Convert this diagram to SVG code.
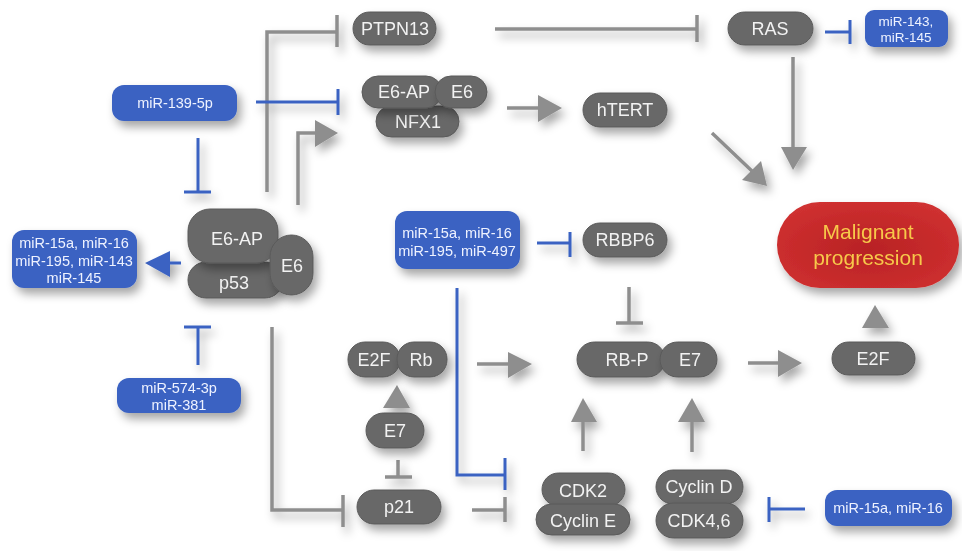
<svg xmlns="http://www.w3.org/2000/svg" width="962" height="551" viewBox="0 0 962 551">
<defs>
<filter id="sh" x="-30%" y="-30%" width="170%" height="180%">
<feDropShadow dx="4" dy="6" stdDeviation="5" flood-color="#000" flood-opacity="0.35"/>
</filter>
<radialGradient id="red" cx="0.5" cy="0.55" r="0.6">
<stop offset="0" stop-color="#b82224"/>
<stop offset="1" stop-color="#cf3030"/>
</radialGradient>
</defs>
<style>
.g rect{fill:#686868;stroke:#5a5a5a;stroke-width:1}
.b rect{fill:#3b62c2}
.t{font-family:"Liberation Sans",Arial,sans-serif;font-size:18px;fill:#f2f2f2;text-anchor:middle}
.s{font-family:"Liberation Sans",Arial,sans-serif;font-size:14.5px;fill:#eef2ff;text-anchor:middle}
.xs{font-family:"Liberation Sans",Arial,sans-serif;font-size:13.5px;fill:#eef2ff;text-anchor:middle}
.m{font-family:"Liberation Sans",Arial,sans-serif;font-size:21px;fill:#f7c84a;text-anchor:middle}
.gl{fill:none;stroke:#8e8e8e;stroke-width:3.5}
.bl{fill:none;stroke:#3b62c2;stroke-width:3}
.ga{fill:#8e8e8e}
.ba{fill:#3b62c2}
</style>
<rect width="962" height="551" fill="#ffffff"/>

<g id="connectors" filter="url(#sh)">
<path class="gl" d="M267 192 V32 H337 M337 15 V47"/>
<path class="gl" d="M298 205 V133 H317"/>
<polygon class="ga" points="315,120 338,133 315,147"/>
<path class="bl" d="M256 102 H338 M338 89 V115"/>
<path class="bl" d="M198 138 V192 M184 192 H211"/>
<path class="bl" d="M181 263 H168"/>
<polygon class="ba" points="170,251 145,263 170,277"/>
<path class="bl" d="M198 365 V327 M184 327 H211"/>
<path class="gl" d="M272 327 V510 H343 M343 495 V527"/>
<path class="gl" d="M495 29 H697 M697 15 V42"/>
<path class="bl" d="M825 32 H850 M850 20 V44"/>
<path class="gl" d="M507 108 H540"/>
<polygon class="ga" points="538,95 562,108 538,122"/>
<path class="gl" d="M793 57 V149"/>
<polygon class="ga" points="781,147 793,170 807,147"/>
<path class="gl" d="M712 133 L753 172"/>
<polygon class="ga" points="761,161 767,186 742,180"/>
<path class="bl" d="M537 243 H570 M570 232 V257"/>
<path class="gl" d="M629 287 V323 M616 323 H643"/>
<path class="bl" d="M457 288 V475 H505 M505 458 V490"/>
<path class="gl" d="M477 364 H510"/>
<polygon class="ga" points="508,352 532,364 508,378"/>
<polygon class="ga" points="383,408 397,385 410,408"/>
<path class="gl" d="M398 460 V477 M385 477 H412"/>
<path class="gl" d="M472 510 H505 M505 497 V522"/>
<path class="gl" d="M583 451 V420"/>
<polygon class="ga" points="571,422 583,398 597,422"/>
<path class="gl" d="M692 452 V420"/>
<polygon class="ga" points="678,422 692,398 705,422"/>
<path class="gl" d="M748 363 H780"/>
<polygon class="ga" points="778,350 802,363 778,377"/>
<polygon class="ga" points="862,328 875,305 889,328"/>
<path class="bl" d="M805 509 H769 M769 497 V522"/>
</g>

<g id="PTPN13" class="g" filter="url(#sh)"><rect x="353" y="12" width="83" height="33" rx="16.5"/><text class="t" x="395" y="35">PTPN13</text></g>
<g id="NFX1" class="g" filter="url(#sh)"><rect x="376" y="106" width="83" height="31" rx="15.5"/><text class="t" x="418" y="128">NFX1</text></g>
<g id="E6AP_top" class="g" filter="url(#sh)"><rect x="362" y="76" width="80" height="32" rx="16"/><text class="t" x="404" y="98">E6-AP</text></g>
<g id="E6_top" class="g" filter="url(#sh)"><rect x="435" y="76" width="52" height="32" rx="16"/><text class="t" x="462" y="98">E6</text></g>
<g id="hTERT" class="g" filter="url(#sh)"><rect x="583" y="93" width="84" height="34" rx="17"/><text class="t" x="625" y="116">hTERT</text></g>
<g id="RAS" class="g" filter="url(#sh)"><rect x="728" y="12" width="85" height="33" rx="16.5"/><text class="t" x="770" y="35">RAS</text></g>
<g id="miR143_145" class="b" filter="url(#sh)"><rect x="865" y="10" width="83" height="37" rx="9"/><text class="xs" x="906" y="26">miR-143,</text><text class="xs" x="906" y="41.5">miR-145</text></g>
<g id="miR139" class="b" filter="url(#sh)"><rect x="112" y="85" width="125" height="36" rx="12"/><text class="s" x="175" y="108">miR-139-5p</text></g>

<g id="p53" class="g" filter="url(#sh)"><rect x="188" y="262" width="95" height="36" rx="18"/><text class="t" x="234" y="289">p53</text></g>
<g id="E6AP" class="g" filter="url(#sh)"><rect x="188" y="209" width="90" height="54" rx="22"/><text class="t" x="237" y="245">E6-AP</text></g>
<g id="E6" class="g" filter="url(#sh)"><rect x="270" y="235" width="43" height="60" rx="21.5"/><text class="t" x="292" y="272">E6</text></g>

<g id="miR15a_left" class="b" filter="url(#sh)"><rect x="12" y="230" width="125" height="58" rx="12"/><text class="s" x="74" y="248">miR-15a, miR-16</text><text class="s" x="74" y="266">miR-195, miR-143</text><text class="s" x="74" y="283">miR-145</text></g>
<g id="miR574" class="b" filter="url(#sh)"><rect x="117" y="378" width="124" height="35" rx="12"/><text class="s" x="179" y="393">miR-574-3p</text><text class="s" x="179" y="410">miR-381</text></g>
<g id="miR15a_mid" class="b" filter="url(#sh)"><rect x="395" y="211" width="125" height="58" rx="12"/><text class="s" x="457" y="238">miR-15a, miR-16</text><text class="s" x="457" y="256">miR-195, miR-497</text></g>
<g id="RBBP6" class="g" filter="url(#sh)"><rect x="583" y="223" width="84" height="34" rx="17"/><text class="t" x="625" y="246">RBBP6</text></g>
<g id="malignant" filter="url(#sh)"><rect x="777" y="202" width="182" height="86" rx="43" fill="url(#red)"/><text class="m" x="868" y="239">Malignant</text><text class="m" x="868" y="265">progression</text></g>

<g id="E2F_left" class="g" filter="url(#sh)"><rect x="348" y="342" width="52" height="35" rx="17"/><text class="t" x="374" y="366">E2F</text></g>
<g id="Rb" class="g" filter="url(#sh)"><rect x="397" y="342" width="50" height="35" rx="17"/><text class="t" x="421" y="366">Rb</text></g>
<g id="RBP" class="g" filter="url(#sh)"><rect x="577" y="342" width="88" height="35" rx="17.5"/><text class="t" x="627" y="366">RB-P</text></g>
<g id="E7_mid" class="g" filter="url(#sh)"><rect x="660" y="342" width="57" height="35" rx="17.5"/><text class="t" x="690" y="366">E7</text></g>
<g id="E2F_right" class="g" filter="url(#sh)"><rect x="832" y="342" width="83" height="33" rx="16.5"/><text class="t" x="873" y="365">E2F</text></g>
<g id="E7_low" class="g" filter="url(#sh)"><rect x="366" y="413" width="58" height="35" rx="17.5"/><text class="t" x="395" y="437">E7</text></g>
<g id="p21" class="g" filter="url(#sh)"><rect x="357" y="490" width="84" height="34" rx="17"/><text class="t" x="399" y="513">p21</text></g>
<g id="CDK2" class="g" filter="url(#sh)"><rect x="542" y="473" width="83" height="33" rx="16.5"/><text class="t" x="583" y="497">CDK2</text></g>
<g id="CyclinE" class="g" filter="url(#sh)"><rect x="536" y="504" width="94" height="31" rx="15.5"/><text class="t" x="583" y="527">Cyclin E</text></g>
<g id="CyclinD" class="g" filter="url(#sh)"><rect x="656" y="470" width="87" height="34" rx="17"/><text class="t" x="699" y="493">Cyclin D</text></g>
<g id="CDK46" class="g" filter="url(#sh)"><rect x="656" y="503" width="87" height="35" rx="17.5"/><text class="t" x="699" y="527">CDK4,6</text></g>
<g id="miR15a_right" class="b" filter="url(#sh)"><rect x="825" y="490" width="127" height="36" rx="12"/><text class="s" x="888" y="513">miR-15a, miR-16</text></g>
</svg>
